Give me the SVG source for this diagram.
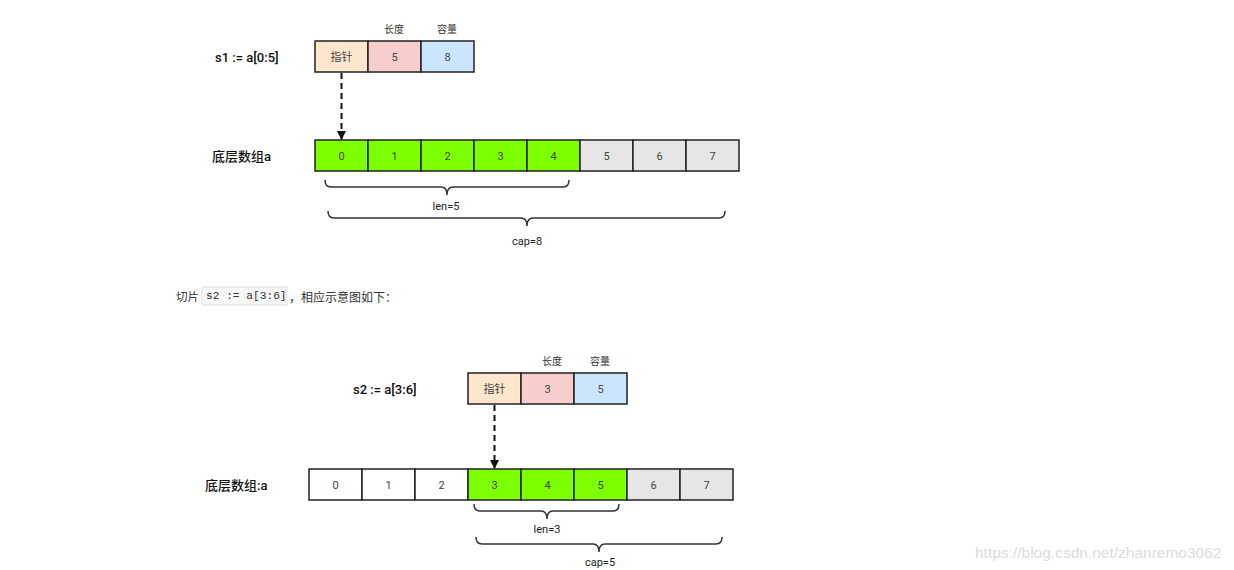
<svg xmlns="http://www.w3.org/2000/svg" width="1234" height="570" viewBox="0 0 1234 570">
<style>
.cell{stroke:#222;stroke-width:1.5}
.ptr{fill:#ffe6cc}.len{fill:#f8cecc}.cap{fill:#cce5ff}
.g{fill:#7dff00}.gr{fill:#e6e6e6}.w{fill:#ffffff}
.ct{font-family:Roboto,"Liberation Sans","Noto Sans CJK SC",sans-serif;font-size:11px;fill:#444;text-anchor:middle;dominant-baseline:central}
.lbl{font-family:Roboto,"Liberation Sans","Noto Sans CJK SC",sans-serif;font-size:13px;font-weight:500;fill:#111;dominant-baseline:central}
.hd{font-family:"Noto Sans CJK SC",sans-serif;font-size:10px;fill:#333;text-anchor:middle;dominant-baseline:central}
.br{fill:none;stroke:#333;stroke-width:1.5}
.bt{font-family:Roboto,"Liberation Sans",sans-serif;font-size:11px;fill:#222;text-anchor:middle;dominant-baseline:central}
.arr{fill:none;stroke:#111;stroke-width:2;stroke-dasharray:6,4}
</style>
<defs>
<marker id="ah" viewBox="0 0 10 10" refX="9" refY="5" markerWidth="10" markerHeight="9" orient="auto" markerUnits="userSpaceOnUse"><path d="M0,0 L10,5 L0,10 z" fill="#111"/></marker>
</defs>
<rect width="1234" height="570" fill="#fff"/>

<g id="s1">
<text class="lbl" x="215" y="57">s1 := a[0:5]</text>
<text class="hd" x="394" y="28">长度</text>
<text class="hd" x="447" y="28">容量</text>
<rect class="cell ptr" x="315" y="41" width="53" height="31"/>
<rect class="cell len" x="368" y="41" width="53" height="31"/>
<rect class="cell cap" x="421" y="41" width="53" height="31"/>
<text class="ct" x="341.5" y="57" font-family="Noto Sans CJK SC">指针</text>
<text class="ct" x="394.5" y="57">5</text>
<text class="ct" x="447.5" y="57">8</text>
</g>

<g id="arrayA">
<text class="lbl" x="212" y="156">底层数组a</text>
<rect class="cell g" x="315" y="140" width="53" height="31"/>
<rect class="cell g" x="368" y="140" width="53" height="31"/>
<rect class="cell g" x="421" y="140" width="53" height="31"/>
<rect class="cell g" x="474" y="140" width="53" height="31"/>
<rect class="cell g" x="527" y="140" width="53" height="31"/>
<rect class="cell gr" x="580" y="140" width="53" height="31"/>
<rect class="cell gr" x="633" y="140" width="53" height="31"/>
<rect class="cell gr" x="686" y="140" width="53" height="31"/>
<text class="ct" x="341.5" y="156">0</text>
<text class="ct" x="394.5" y="156">1</text>
<text class="ct" x="447.5" y="156">2</text>
<text class="ct" x="500.5" y="156">3</text>
<text class="ct" x="553.5" y="156">4</text>
<text class="ct" x="606.5" y="156">5</text>
<text class="ct" x="659.5" y="156">6</text>
<text class="ct" x="712.5" y="156">7</text>
</g>

<g id="len5">
<path class="br" d="M325,180 Q325,187 331,187 L441,187 Q447,187 447,195 Q447,187 453,187 L563,187 Q569,187 569,180"/>
<text class="bt" x="446" y="206">len=5</text>
</g>
<g id="cap8">
<path class="br" d="M328,211 Q328,218 334,218 L521,218 Q527,218 527,226 Q527,218 533,218 L719,218 Q725,218 725,211"/>
<text class="bt" x="527" y="241">cap=8</text>
</g>

<g id="caption">
<text x="176" y="296" font-family="'Noto Sans CJK SC',sans-serif" font-size="11.5" fill="#333" dominant-baseline="central">切片</text>
<rect x="202" y="287" width="85" height="18" fill="#f6f6f6" stroke="#e2e2e2" stroke-width="1"/>
<text x="206" y="296" font-family="'Liberation Mono','DejaVu Sans Mono',monospace" font-size="11.2" fill="#333" dominant-baseline="central" xml:space="preserve">s2 := a[3:6]</text>
<text x="289" y="296" font-family="'Noto Sans CJK SC',sans-serif" font-size="12" fill="#333" dominant-baseline="central">，相应示意图如下：</text>
</g>

<g id="s2">
<text class="lbl" x="353" y="389">s2 := a[3:6]</text>
<text class="hd" x="552" y="360">长度</text>
<text class="hd" x="600" y="360">容量</text>
<rect class="cell ptr" x="468" y="373" width="53" height="31"/>
<rect class="cell len" x="521" y="373" width="53" height="31"/>
<rect class="cell cap" x="574" y="373" width="53" height="31"/>
<text class="ct" x="494.5" y="389" font-family="Noto Sans CJK SC">指针</text>
<text class="ct" x="547.5" y="389">3</text>
<text class="ct" x="600.5" y="389">5</text>
</g>

<g id="arrayB">
<text class="lbl" x="205" y="485">底层数组:a</text>
<rect class="cell w" x="309" y="469" width="53" height="31"/>
<rect class="cell w" x="362" y="469" width="53" height="31"/>
<rect class="cell w" x="415" y="469" width="53" height="31"/>
<rect class="cell g" x="468" y="469" width="53" height="31"/>
<rect class="cell g" x="521" y="469" width="53" height="31"/>
<rect class="cell g" x="574" y="469" width="53" height="31"/>
<rect class="cell gr" x="627" y="469" width="53" height="31"/>
<rect class="cell gr" x="680" y="469" width="53" height="31"/>
<text class="ct" x="335.5" y="485">0</text>
<text class="ct" x="388.5" y="485">1</text>
<text class="ct" x="441.5" y="485">2</text>
<text class="ct" x="494.5" y="485">3</text>
<text class="ct" x="547.5" y="485">4</text>
<text class="ct" x="600.5" y="485">5</text>
<text class="ct" x="653.5" y="485">6</text>
<text class="ct" x="706.5" y="485">7</text>
</g>

<g id="len3">
<path class="br" d="M474,504 Q474,511 480,511 L541,511 Q547,511 547,519 Q547,511 553,511 L613,511 Q619,511 619,504"/>
<text class="bt" x="547" y="529">len=3</text>
</g>
<g id="cap5">
<path class="br" d="M476,537 Q476,544 482,544 L593,544 Q599,544 599,552 Q599,544 605,544 L716,544 Q722,544 722,537"/>
<text class="bt" x="600" y="562">cap=5</text>
</g>

<g id="connectors">
<line class="arr" x1="341.5" y1="73" x2="341.5" y2="139" marker-end="url(#ah)"/>
<line class="arr" x1="494.5" y1="405" x2="494.5" y2="468" marker-end="url(#ah)"/>
</g>

<text x="975" y="552" font-family="'Liberation Sans',Arial,sans-serif" font-size="15.5" fill="#dcdcdc" dominant-baseline="central">https://blog.csdn.net/zhanremo3062</text>
</svg>
